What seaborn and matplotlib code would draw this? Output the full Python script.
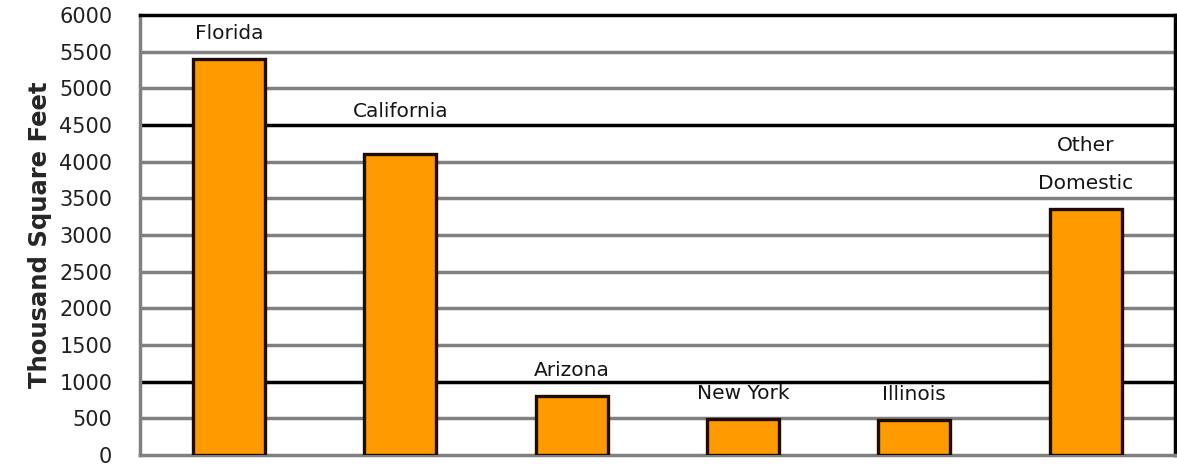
import matplotlib
matplotlib.use('Agg')
import matplotlib.pyplot as plt
import seaborn as sns
import pandas as pd

states = ['Florida', 'California', 'Arizona', 'New York', 'Illinois', 'Other\nDomestic']
square_feet = [5400, 4100, 800, 490, 480, 3350]
y_ticks = [0, 500, 1000, 1500, 2000, 2500, 3000, 3500, 4000, 4500, 5000, 5500, 6000]
dark_lines = [1000, 4500]

# gap between bar top and its label (California sits above the 4500 line)
label_pad = [220, 450, 220, 220, 220, 220]

df = pd.DataFrame({'State': states, 'Thousand Square Feet': square_feet})

sns.set_theme(style='white')
plt.rcParams['font.family'] = ['DejaVu Sans']

fig = plt.figure(figsize=(11.77, 4.67), dpi=100)
ax = fig.add_axes([0.119, 0.026, 0.879, 0.942])

sns.barplot(data=df, x='State', y='Thousand Square Feet', color='#FF9A00',
            saturation=1, width=0.42, edgecolor='#1e0c00', linewidth=2.4, ax=ax, zorder=3)

ax.set_ylim(0, 6000)
ax.set_xlim(-0.52, 5.52)
ax.set_yticks(y_ticks)
ax.set_yticklabels([str(t) for t in y_ticks], fontsize=15, color='#202020')
ax.tick_params(axis='y', length=0, pad=20)
ax.set_xticks([])
ax.set_xlabel('')
ax.set_ylabel('Thousand Square Feet', fontsize=17.5, fontweight='bold', labelpad=5)

for t in y_ticks:
    if t in dark_lines:
        ax.axhline(t, color='black', linewidth=2.5, zorder=1)
    elif t not in (0, 6000):
        ax.axhline(t, color='#808080', linewidth=2.5, zorder=1)

for i, (name, val) in enumerate(zip(states, square_feet)):
    ax.text(i, val + label_pad[i], name, ha='center', va='bottom', fontsize=14.5,
            color='#151515', linespacing=2.3, zorder=4)

for side in ['top', 'right']:
    ax.spines[side].set_color('black')
    ax.spines[side].set_linewidth(2.5)
for side in ['left', 'bottom']:
    ax.spines[side].set_color('#808080')
    ax.spines[side].set_linewidth(2.5)

fig.savefig('out.png', dpi=100)
